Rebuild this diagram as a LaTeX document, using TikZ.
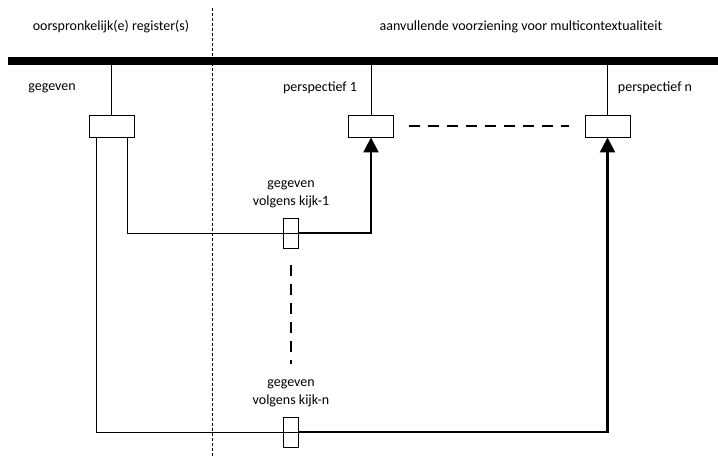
\documentclass[tikz,border=0pt]{standalone}
\usepackage{fontspec}
\setmainfont{Carlito}
\usetikzlibrary{arrows.meta}

\begin{document}
\begin{tikzpicture}[x=1pt,y=-1pt,font=\fontsize{14}{18}\selectfont,
        wire/.style={line width=0.8pt},
        heavy/.style={line width=2.4pt},
        box/.style={draw,line width=0.9pt,minimum width=45pt,minimum height=22pt,inner sep=0pt},
        kbox/.style={draw,line width=0.9pt,minimum width=15pt,minimum height=30pt,inner sep=0pt},
        tip/.style={-{Triangle[width=15pt,length=15pt]}}]
        \useasboundingbox (0,0) rectangle (718,457);

        % koppen en scheiding
        \node (orig) at (111,27) {oorspronkelijk(e) register(s)};
        \node (extra) at (521,27) {aanvullende voorziening voor multicontextualiteit};
        \coordinate (barl) at (8,61);
        \coordinate (barr) at (718,61);
        \draw[line width=8pt] (barl) -- (barr);
        \coordinate (sept) at (212,8);
        \coordinate (sepb) at (212,457);
        \draw[wire,dash pattern=on 3pt off 2pt] (sept) -- (sepb);

        % registers
        \node[box] (g) at (111.5,126) {};
        \node[box] (p1) at (371,126) {};
        \node[box] (pn) at (607.5,126) {};
        \node at (52,88) {gegeven};
        \node at (320,88) {perspectief 1};
        \node at (655,88) {perspectief n};
        \draw[wire] (g.north |- barl) -- (g.north);
        \draw[wire] (p1.north |- barl) -- (p1.north);
        \draw[wire] (pn.north |- barl) -- (pn.north);
        \draw[heavy,dash pattern=on 11pt off 8pt] ([xshift=15pt]p1.east) -- ([xshift=-16pt]pn.west);

        % kijken
        \node[kbox] (k1) at (291,233) {};
        \node[kbox] (kn) at (291,432) {};
        \node[align=center] at (291,194) {gegeven\\volgens kijk-1};
        \node[align=center] at (291,393) {gegeven\\volgens kijk-n};
        \coordinate (dtop) at (291,265);
        \coordinate (dbot) at (291,364);
        \draw[heavy,dash pattern=on 11pt off 8pt] (dtop) -- (dbot);

        \draw[wire] ([xshift=15.5pt]g.south) |- (k1.east);
        \draw[wire] ([xshift=-15.5pt]g.south) |- (kn.east);
        \draw[heavy,tip] (k1.east) -| (p1.south);
        \draw[heavy,tip] (kn.east) -| (pn.south);
\end{tikzpicture}
\end{document}
